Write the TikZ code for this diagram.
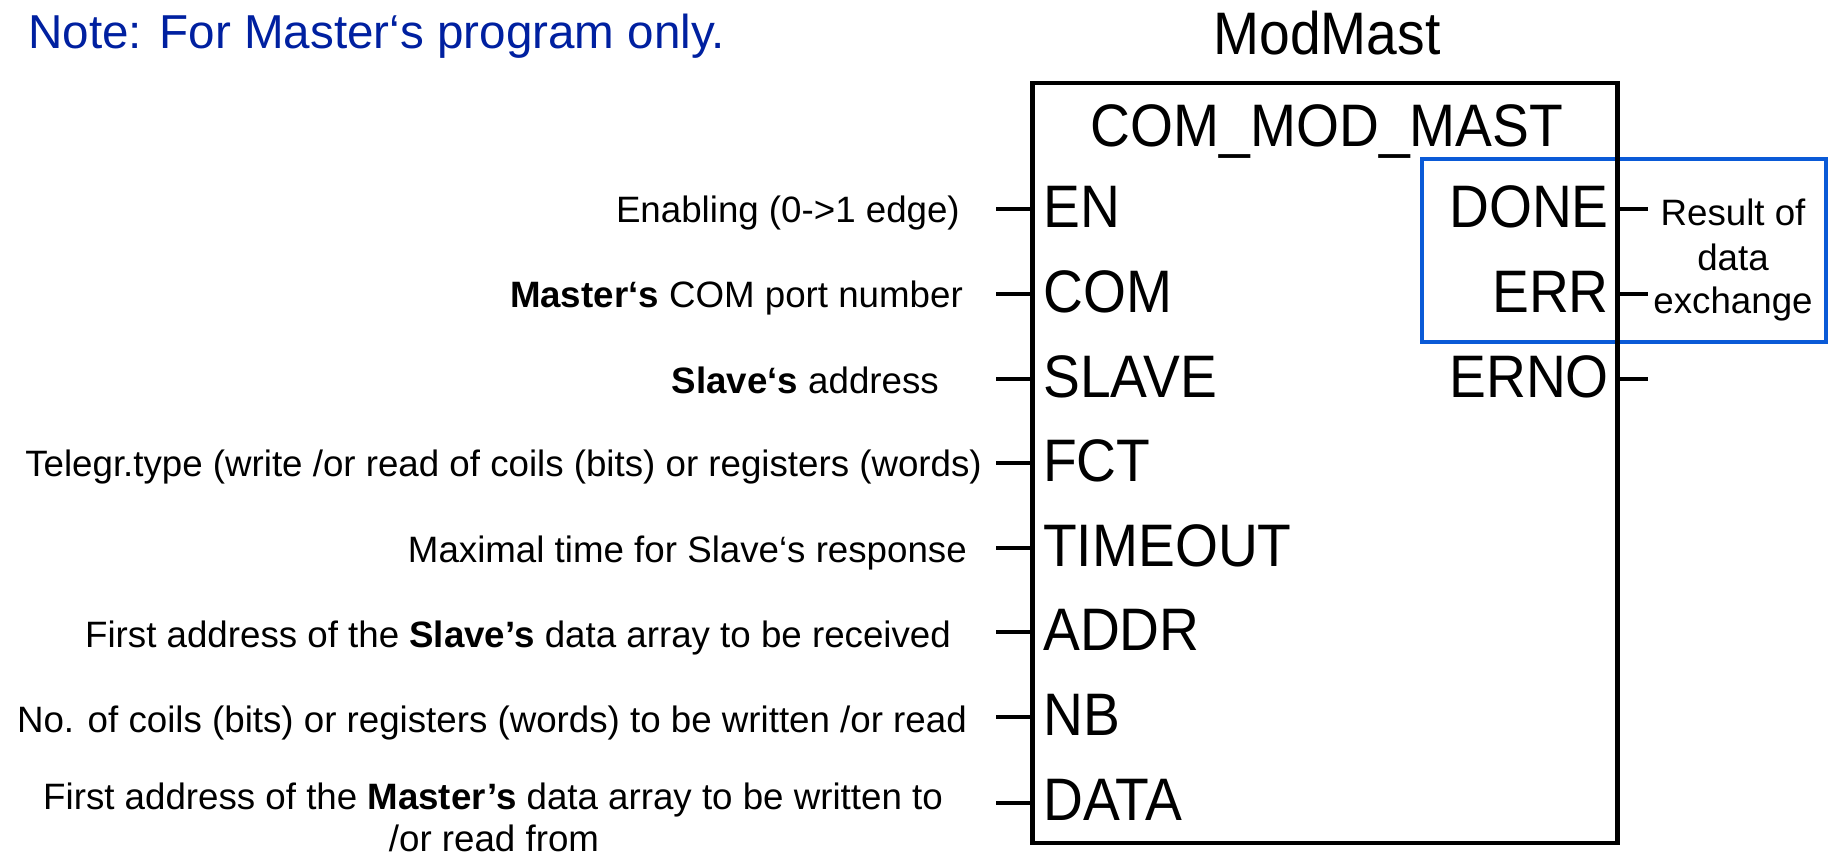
\documentclass[tikz,border=0pt]{standalone}
\usepackage{fontspec}
\setmainfont{Liberation Sans}
\newfontfamily\pixfont[FakeStretch=0.92]{Liberation Sans}
\definecolor{notecol}{RGB}{0,32,160}
\definecolor{boxblue}{RGB}{10,90,215}
\begin{document}
\begin{tikzpicture}[x=1pt,y=-1pt,
  lbl/.style={anchor=base east, inner sep=0pt, font=\fontsize{36.7}{44}\selectfont},
  lblc/.style={anchor=base, inner sep=0pt, font=\fontsize{36.7}{44}\selectfont},
  pinl/.style={anchor=base west, inner sep=0pt, font=\pixfont\fontsize{60}{60}\selectfont},
  pinr/.style={anchor=base east, inner sep=0pt, font=\pixfont\fontsize{60}{60}\selectfont},
  pinc/.style={anchor=base, inner sep=0pt, font=\pixfont\fontsize{60}{60}\selectfont},
  wire/.style={line width=4.5pt},
  ]
\useasboundingbox (0,0) rectangle (1829,856);

% note
\node[anchor=base west, inner sep=0pt, font=\fontsize{47.6}{57}\selectfont, text=notecol] (note) at (28,49) {Note: For Master‘s program only.};

% blue highlight
\node[draw=boxblue, line width=4.5pt, outer sep=0pt, inner sep=0pt, minimum width=404pt, minimum height=183pt, anchor=north west] (resbox) at (1422,159) {};

% block
\node[pinc] (inst) at (1327,55) {ModMast};
\node[draw, line width=4.5pt, outer sep=0pt, inner sep=0pt, minimum width=585pt, minimum height=760pt, anchor=north west] (block) at (1032.5,83) {};
\node[pinc] (ftype) at (1327,147) {COM\_MOD\_MAST};

% input pins
\node[pinl] (pEN) at (1043,227) {EN};
\node[pinl] (pCOM) at (1043,312) {COM};
\node[pinl] (pSLAVE) at (1043,397) {SLAVE};
\node[pinl] (pFCT) at (1043,481) {FCT};
\node[pinl] (pTIMEOUT) at (1043,566) {TIMEOUT};
\node[pinl] (pADDR) at (1043,650) {ADDR};
\node[pinl] (pNB) at (1043,735) {NB};
\node[pinl] (pDATA) at (1043,820) {DATA};

% output pins
\node[pinr] (pDONE) at (1609,227) {DONE};
\node[pinr] (pERR) at (1609,312) {ERR};
\node[pinr] (pERNO) at (1609,397) {ERNO};

% input stubs
\coordinate (sEN) at (996,209);
\coordinate (sCOM) at (996,294);
\coordinate (sSLAVE) at (996,379);
\coordinate (sFCT) at (996,463);
\coordinate (sTIMEOUT) at (996,548);
\coordinate (sADDR) at (996,632);
\coordinate (sNB) at (996,717);
\coordinate (sDATA) at (996,803);
\foreach \p in {EN,COM,SLAVE,FCT,TIMEOUT,ADDR,NB,DATA}
  \draw[wire] (s\p) -- (s\p -| block.west);

% output stubs
\coordinate (oDONE) at (1648,209);
\coordinate (oERR) at (1648,294);
\coordinate (oERNO) at (1648,379);
\foreach \p in {DONE,ERR,ERNO}
  \draw[wire] (o\p -| block.east) -- (o\p);

% input labels
\node[lbl] (lEN) at (960,222) {Enabling (0->1 edge)};
\node[lbl] (lCOM) at (963,307) {\textbf{Master‘s} COM port number};
\node[lbl] (lSLAVE) at (939,393) {\textbf{Slave‘s} address};
\node[lbl] (lFCT) at (982,476) {Telegr.type (write /or read of coils (bits) or registers (words)};
\node[lbl] (lTIMEOUT) at (967,562) {Maximal time for Slave‘s response};
\node[lbl] (lADDR) at (951,647) {First address of the \textbf{Slave’s} data array to be received};
\node[lbl] (lNB) at (967,732) {No. of coils (bits) or registers (words) to be written /or read};
\node[lblc] (lDATA) at (493,809) {First address of the \textbf{Master’s} data array to be written to};
\node[lblc] (lDATAb) at (494,851) {/or read from};

% result labels
\node[lblc] (res1) at (1733,225) {Result of};
\node[lblc] (res2) at (1733,270) {data};
\node[lblc] (res3) at (1733,313) {exchange};
\end{tikzpicture}
\end{document}
